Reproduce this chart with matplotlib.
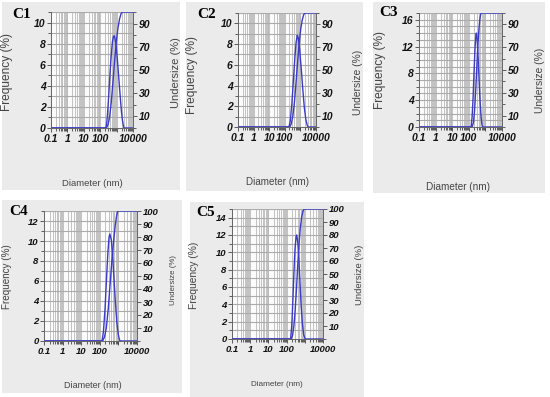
import matplotlib
matplotlib.use("Agg")
import matplotlib.pyplot as plt
from matplotlib import font_manager
from matplotlib.patches import Rectangle
from matplotlib.ticker import FixedLocator, MultipleLocator, LogLocator, NullFormatter

# ── Data (diameter in nm, values in %) ───────────────────────────────
c1_freq_d = [0.1, 224, 251, 282, 316, 355, 398, 447, 501, 562, 631, 708, 794, 891,
             1000, 1122, 1259, 1413, 1585, 1778, 1995, 2239, 2512, 2818, 10000]
c1_freq = [0, 0, 0.5, 1.4, 2.6, 3.9, 5.2, 6.4, 7.4, 8.2, 8.65, 8.75, 8.5, 8.0,
           7.3, 6.4, 5.4, 4.4, 3.4, 2.4, 1.5, 0.8, 0.3, 0, 0]
c1_cum_d = [0.1, 240, 302, 380, 479, 603, 759, 955, 1202, 1514, 1862, 2239, 10000]
c1_cum = [0, 0, 3, 10, 23, 40, 58, 74, 86, 94, 98.5, 100, 100]

c2_freq_d = [0.1, 186, 224, 282, 355, 447, 525, 631, 724, 891, 1122, 1413, 1778,
             2239, 2818, 3162, 10000]
c2_freq = [0, 0, 0.6, 2.2, 4.5, 6.8, 8.1, 8.85, 8.6, 7.5, 5.7, 3.7, 1.9,
           0.7, 0.1, 0, 0]
c2_cum_d = [0.1, 209, 263, 331, 417, 525, 661, 832, 1047, 1318, 1622, 1950, 10000]
c2_cum = [0, 0, 3, 10, 22, 39, 57, 73, 86, 94, 98.5, 100, 100]

c3_freq_d = [0.1, 138, 158, 182, 209, 240, 269, 288, 316, 363, 417, 479, 550, 617, 676, 10000]
c3_freq = [0, 0, 1.5, 4.5, 8.5, 12.0, 13.8, 14.0, 13.2, 10.5, 7.0, 3.8, 1.5, 0.4, 0, 0]
c3_cum_d = [0.1, 158, 191, 224, 263, 302, 347, 398, 457, 513, 562, 10000]
c3_cum = [0, 0, 4, 15, 33, 52, 70, 84, 94, 98.5, 100, 100]

c4_freq_d = [0.1, 132, 158, 191, 229, 275, 316, 347, 380, 417, 479, 575, 692, 832,
             1000, 1148, 1288, 10000]
c4_freq = [0, 0, 1.0, 3.2, 6.2, 9.0, 10.4, 10.7, 10.4, 10.1, 8.8, 6.3, 3.8, 1.8,
           0.6, 0.1, 0, 0]
c4_cum_d = [0.1, 141, 178, 224, 282, 355, 447, 562, 676, 794, 912, 10000]
c4_cum = [0, 0, 3, 10, 24, 43, 62, 78, 89, 96, 100, 100]

c5_freq_d = [0.1, 166, 191, 219, 251, 288, 331, 355, 380, 417, 479, 550, 631, 741,
             871, 1000, 1096, 10000]
c5_freq = [0, 0, 1.5, 4.2, 7.5, 10.3, 11.8, 12.0, 11.7, 11.0, 9.0, 6.3, 3.8, 1.7,
           0.5, 0.1, 0, 0]
c5_cum_d = [0.1, 178, 214, 251, 295, 347, 407, 479, 562, 676, 794, 933, 10000]
c5_cum = [0, 0, 3, 10, 22, 38, 56, 72, 85, 94, 98.5, 100, 100]

x_ticks = [0.1, 1, 10, 100, 1000, 10000]
x_labels = ["0.1", "1", "10", "100", "", "10000"]

# ── Fonts ───────────────────────────────────────────────
names = {f.name for f in font_manager.fontManager.ttflist}
narrow = "Liberation Sans Narrow" if "Liberation Sans Narrow" in names else "Liberation Sans"
plt.rcParams["font.family"] = ["Liberation Sans", "DejaVu Sans"]

W, H = 550, 397
fig = plt.figure(figsize=(W / 100, H / 100), dpi=100)
fig.patch.set_facecolor("white")

BLUE = "#3b3bc6"
GRID = "#b9b9b9"


def rect(x0, y0, x1, y1):
    return [x0 / W, 1 - y1 / H, (x1 - x0) / W, (y1 - y0) / H]


def panel(name, box, axbox, fd, fv, cd, cv, ymax, ymaj, rmaj, fs,
          lab_pos, freq_pos, und_pos, dia_pos, lab_fs):
    x0, y0, x1, y1 = box
    fig.patches.append(Rectangle((x0 / W, 1 - y1 / H), (x1 - x0) / W, (y1 - y0) / H,
                                 transform=fig.transFigure, facecolor="#ebebeb",
                                 edgecolor="none", zorder=-10))
    ax = fig.add_axes(rect(*axbox))
    ax.set_facecolor("#fbfbfb")
    ax.set_xscale("log")
    ax.set_xlim(0.1, 10000)
    ax.set_ylim(0, ymax)
    ax.xaxis.set_major_locator(FixedLocator(x_ticks))
    ax.set_xticklabels(x_labels)
    ax.xaxis.set_minor_locator(LogLocator(base=10, subs=range(2, 10), numticks=20))
    ax.xaxis.set_minor_formatter(NullFormatter())
    ax.yaxis.set_major_locator(MultipleLocator(ymaj))
    ax.yaxis.set_minor_locator(MultipleLocator(1))
    ax.set_axisbelow(True)
    ax.plot(fd, fv, color=BLUE, lw=1.0, zorder=3)

    ax2 = ax.twinx()
    ax2.set_ylim(0, 100)
    ax2.yaxis.set_major_locator(FixedLocator(rmaj))
    ax2.yaxis.set_minor_locator(MultipleLocator(10))
    ax2.plot(cd, cv, color=BLUE, lw=1.0, zorder=3)

    for a in (ax, ax2):
        a.spines["top"].set_visible(False)
        for s in ("left", "right", "bottom"):
            a.spines[s].set_color("#666666")
            a.spines[s].set_linewidth(0.6)
        a.tick_params(which="major", length=3, width=0.6, color="#444444",
                      pad=1, labelsize=fs, labelcolor="#111111")
        a.tick_params(which="minor", length=2, width=0.6, color="#444444")
        for t in a.get_xticklabels() + a.get_yticklabels():
            t.set_family([narrow, "DejaVu Sans"])
            t.set_fontweight("bold")
            t.set_fontstyle("italic")

    ax.grid(True, axis="x", which="both", color=GRID, lw=0.6)
    ax.grid(True, axis="y", which="both", color="#ababab", lw=0.8)

    fig.text(lab_pos[0] / W, 1 - lab_pos[1] / H, name, family=["Liberation Serif", "DejaVu Serif"],
             fontweight="bold", fontsize=11, ha="center", va="center")
    fig.text(freq_pos[0] / W, 1 - freq_pos[1] / H, "Frequency (%)", rotation=90,
             fontsize=lab_fs[0], color="#444444", ha="center", va="center")
    fig.text(und_pos[0] / W, 1 - und_pos[1] / H, "Undersize (%)", rotation=90,
             fontsize=lab_fs[1], color="#444444", ha="center", va="center")
    fig.text(dia_pos[0] / W, 1 - dia_pos[1] / H, "Diameter (nm)",
             fontsize=lab_fs[2], color="#444444", ha="center", va="center")


r_odd = [10, 30, 50, 70, 90]
r_all = [10, 20, 30, 40, 50, 60, 70, 80, 90, 100]

panel("C1", (2, 2, 180, 190), (51, 12, 133, 128), c1_freq_d, c1_freq, c1_cum_d, c1_cum,
      11, 2, r_odd, 7.5, (22, 15), (7, 72), (176, 73), (92, 183), (8.6, 8.0, 6.8))
panel("C2", (186, 2, 363, 191), (238, 13, 316, 127), c2_freq_d, c2_freq, c2_cum_d, c2_cum,
      11, 2, r_odd, 7.5, (207, 14), (192, 75), (358, 82), (278, 182), (8.6, 7.4, 7.1))
panel("C3", (373, 2, 545, 193), (419, 13, 502, 127), c3_freq_d, c3_freq, c3_cum_d, c3_cum,
      17, 4, r_odd, 7.5, (388, 13), (380, 70), (540, 80), (458, 187), (8.6, 7.4, 7.2))
panel("C4", (2, 200, 182, 393), (44, 211, 137, 341), c4_freq_d, c4_freq, c4_cum_d, c4_cum,
      13, 2, r_all, 6.8, (19, 212), (7, 277), (173, 280), (93, 386), (7.1, 5.7, 6.5))
panel("C5", (190, 202, 364, 397), (232, 209, 323, 339), c5_freq_d, c5_freq, c5_cum_d, c5_cum,
      15, 2, r_all, 6.8, (206, 213), (194, 275), (360, 275), (277, 384), (7.4, 6.8, 5.9))

plt.savefig("out.png", dpi=100, facecolor="white")
